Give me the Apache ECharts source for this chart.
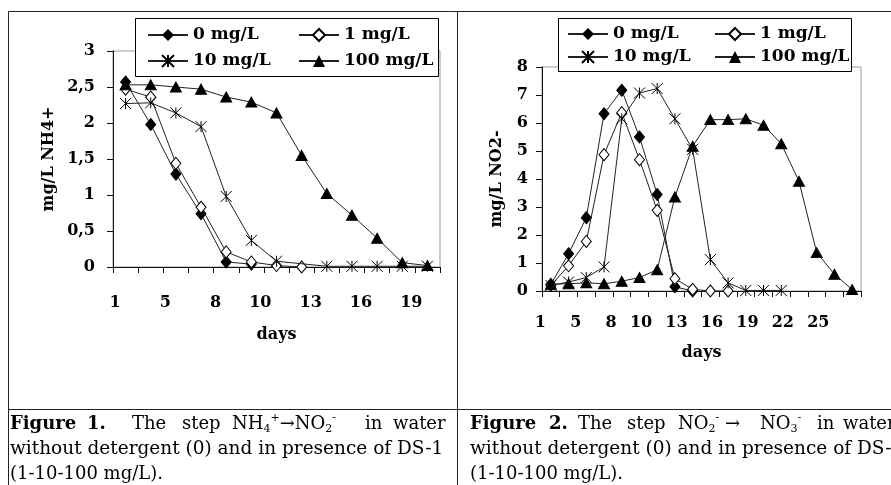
<!DOCTYPE html>
<html>
<head>
<meta charset="utf-8">
<script src="https://cdn.jsdelivr.net/npm/echarts@6/dist/echarts.min.js"></script>
<style>
  html, body { margin: 0; background: #fff; }
  #chart { width: 891px; height: 485px; }
</style>
</head>
<body>
<div id="chart"></div>
<script>
// day labels as printed under each axis (only every other category carries one)
const leftDays = ['1', '', '5', '', '8', '', '10', '', '13', '', '16', '', '19'];
const rightDays = ['1', '', '5', '', '8', '', '10', '', '13', '', '16', '', '19', '', '22', '', '25', ''];
const names = ['0 mg/L', '1 mg/L', '10 mg/L', '100 mg/L'];

// Figure 1: mg/L NH4+
const nh4_0 = [2.57, 1.98, 1.29, 0.74, 0.07, 0.04];
const nh4_1 = [2.47, 2.36, 1.44, 0.83, 0.21, 0.07, 0.02, 0.0];
const nh4_10 = [2.27, 2.28, 2.14, 1.95, 0.98, 0.37, 0.08, '-', 0.01, 0.01, 0.01, 0.01, 0.01];
const nh4_100 = [2.53, 2.53, 2.5, 2.47, 2.36, 2.29, 2.14, 1.55, 1.02, 0.72, 0.4, 0.06, 0.02];

// Figure 2: mg/L NO2-
const no2_0 = [0.24, 1.33, 2.62, 6.33, 7.17, 5.5, 3.45, 0.15, 0.0];
const no2_1 = [0.2, 0.9, 1.77, 4.87, 6.37, 4.69, 2.88, 0.44, 0.06, 0.0, 0.0];
const no2_10 = [0.2, 0.32, 0.48, 0.86, 6.15, 7.07, 7.23, 6.15, 5.06, 1.12, 0.29, 0.02, 0.02, 0.02];
const no2_100 = [0.24, 0.26, 0.29, 0.26, 0.35, 0.48, 0.76, 3.36, 5.17, 6.12, 6.12, 6.15, 5.92, 5.26, 3.92, 1.37, 0.6, 0.05];

const FONT = 'DejaVu Serif';
const INK = '#111';
const asterisk = 'path://M0,0L10,10M10,0L0,10M5,0L5,10';

const marks = [
    { symbol: 'diamond', symbolSize: [10, 12], itemStyle: { color: '#000', borderColor: '#000' } },
    { symbol: 'diamond', symbolSize: [10, 12], itemStyle: { color: '#fff', borderColor: '#000', borderWidth: 1 } },
    { symbol: asterisk, symbolSize: [11, 11], itemStyle: { color: '#fff', borderColor: '#000', borderWidth: 1 } },
    { symbol: 'triangle', symbolSize: [11, 10], itemStyle: { color: '#000', borderColor: '#000' } },
];

function makeSeries(gridIdx, sets) {
    return sets.map((data, i) => ({
        type: 'line',
        name: names[i],
        xAxisIndex: gridIdx,
        yAxisIndex: gridIdx,
        data,
        connectNulls: true,
        showAllSymbol: true,
        symbol: marks[i].symbol,
        symbolSize: marks[i].symbolSize,
        itemStyle: marks[i].itemStyle,
        lineStyle: { color: '#222', width: 1 },
        z: 3 + i,
    }));
}

const axisText = { fontFamily: FONT, fontWeight: 'bold', fontSize: 16, color: '#000' };
const nameText = { fontFamily: FONT, fontWeight: 'bold', fontSize: 16, color: '#000' };

function xAxis(gridIdx, days, margin, nameGap) {
    return {
        type: 'category',
        gridIndex: gridIdx,
        data: days,
        boundaryGap: true,
        axisLine: { lineStyle: { color: INK, width: 1 } },
        axisTick: { show: true, interval: 0, length: 6, lineStyle: { color: INK } },
        axisLabel: { ...axisText, interval: 0, align: 'right', padding: [0, 5, 0, 0], margin },
        splitLine: { show: false },
        name: 'days',
        nameLocation: 'middle',
        nameGap,
        nameTextStyle: nameText,
    };
}

function yAxis(gridIdx, max, interval, label, margin, nameGap, fmt) {
    return {
        type: 'value',
        gridIndex: gridIdx,
        min: 0,
        max,
        interval,
        axisLine: { show: true, lineStyle: { color: INK, width: 1 } },
        axisTick: { show: true, length: 6, lineStyle: { color: INK } },
        axisLabel: { ...axisText, margin, formatter: fmt },
        splitLine: { show: false },
        name: label,
        nameLocation: 'middle',
        nameGap,
        nameTextStyle: nameText,
    };
}

function legendCol(data, left, top, gap) {
    return {
        data,
        left,
        top,
        orient: 'vertical',
        itemGap: gap,
        itemWidth: 40,
        itemHeight: 15,
        selectedMode: false,
        padding: 0,
        z: 10,
        textStyle: { fontFamily: FONT, fontWeight: 'bold', fontSize: 17, lineHeight: 18, color: '#000' },
    };
}

// caption words are placed one by one to mimic the justified table text
const capRich = {
    n: { fontFamily: FONT, fontSize: 18, lineHeight: 22, color: '#000' },
    sub: { fontFamily: FONT, fontSize: 11, lineHeight: 11, verticalAlign: 'bottom', color: '#000' },
    sup: { fontFamily: FONT, fontSize: 11, lineHeight: 11, verticalAlign: 'top', color: '#000' },
};
function word(text, x, y, bold, size) {
    return {
        type: 'text', x, y, z: 20,
        style: {
            text,
            fontFamily: FONT,
            fontSize: size || 18,
            fontWeight: bold ? 'bold' : 'normal',
            fill: '#000',
            verticalAlign: 'middle',
            rich: capRich,
        },
    };
}
function rule(x1, y1, x2, y2) {
    return { type: 'line', z: 20, shape: { x1, y1, x2, y2 }, style: { stroke: '#222', lineWidth: 1 } };
}

const L1 = 424, L2 = 449, L3 = 474;

const chart = echarts.init(document.getElementById('chart'), null, { renderer: 'canvas' });
chart.setOption({
    animation: false,
    backgroundColor: '#fff',
    grid: [
        { left: 113, top: 51, width: 327, height: 216, show: true, borderColor: '#999', borderWidth: 1, backgroundColor: 'transparent' },
        { left: 542, top: 67, width: 319, height: 224, show: true, borderColor: '#999', borderWidth: 1, backgroundColor: 'transparent' },
    ],
    xAxis: [xAxis(0, leftDays, 28, 60), xAxis(1, rightDays, 24, 54)],
    yAxis: [
        yAxis(0, 3, 0.5, 'mg/L NH4+', 18, 56, (v) => String(v).replace('.', ',')),
        yAxis(1, 8, 1, 'mg/L NO2-', 14, 37, (v) => String(v)),
    ],
    legend: [
        legendCol(['0 mg/L', '10 mg/L'], 147, 26, 8),
        legendCol(['1 mg/L', '100 mg/L'], 298, 26, 8),
        legendCol(['0 mg/L', '10 mg/L'], 567, 25, 5),
        legendCol(['1 mg/L', '100 mg/L'], 714, 25, 5),
    ],
    graphic: {
        elements: [
            { type: 'rect', z: 8, shape: { x: 135.5, y: 18.5, width: 303, height: 58 }, style: { fill: '#fff', stroke: '#000', lineWidth: 1 } },
            { type: 'rect', z: 8, shape: { x: 558.5, y: 18.5, width: 293, height: 53 }, style: { fill: '#fff', stroke: '#000', lineWidth: 1 } },
            rule(8.5, 11.5, 891, 11.5),
            rule(8.5, 11.5, 8.5, 485),
            rule(457.5, 11.5, 457.5, 485),
            rule(8.5, 409.5, 891, 409.5),

            word('Figure', 10, L1, true),
            word('1.', 87, L1, true),
            word('The', 132, L1),
            word('step', 182, L1),
            word('{n|NH}{sub|4}{sup|+}{n|→NO}{sub|2}{sup|-}', 232, L1),
            word('in', 365, L1),
            word('water', 393, L1),
            word('without detergent (0) and in presence of DS-1', 10, L2, false, 18.5),
            word('(1-10-100 mg/L).', 10, L3),

            word('Figure', 470, L1, true),
            word('2.', 549, L1, true),
            word('The', 578, L1),
            word('step', 627, L1),
            word('{n|NO}{sub|2}{sup|-}', 678, L1),
            word('→', 725, L1),
            word('{n|NO}{sub|3}{sup|-}', 760, L1),
            word('in', 817, L1),
            word('water', 843, L1),
            word('without detergent (0) and in presence of DS-1', 470, L2, false, 18.5),
            word('(1-10-100 mg/L).', 470, L3),
        ],
    },
    series: [
        ...makeSeries(0, [nh4_0, nh4_1, nh4_10, nh4_100]),
        ...makeSeries(1, [no2_0, no2_1, no2_10, no2_100]),
    ],
});
</script>
</body>
</html>
